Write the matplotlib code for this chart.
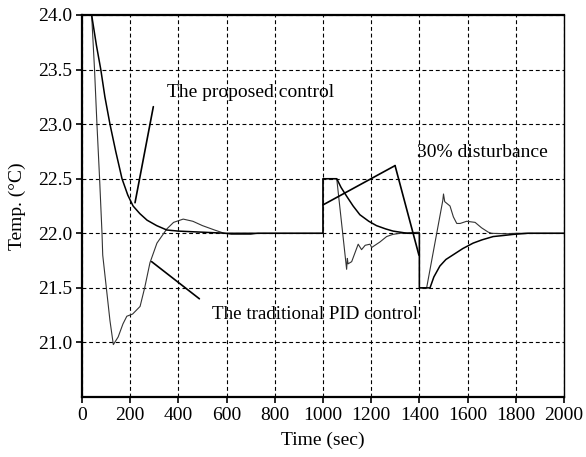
import matplotlib
matplotlib.use("Agg")
import matplotlib.pyplot as plt

# ---- data ----
t_proposed = [0, 40, 60, 78, 95, 116, 140, 166, 190, 212, 240, 270, 310, 352, 400, 500, 600,
              1000, 1000, 1057, 1075, 1098, 1125, 1153, 1190, 1222, 1260, 1291, 1350,
              1400, 1400, 1444, 1460, 1485, 1510, 1545, 1580, 1623, 1660, 1706, 1750, 1790, 1850, 2000]
T_proposed = [24.0, 24.0, 23.72, 23.5, 23.25, 23.0, 22.75, 22.5, 22.35, 22.25, 22.18, 22.12, 22.07, 22.03, 22.02, 22.01, 22.0,
              22.0, 22.5, 22.5, 22.42, 22.34, 22.25, 22.17, 22.11, 22.07, 22.04, 22.02, 22.0,
              22.0, 21.5, 21.5, 21.6, 21.70, 21.76, 21.81, 21.86, 21.91, 21.94, 21.97, 21.98, 21.99, 22.0, 22.0]

t_pid = [0, 40, 52, 62, 73, 83, 86, 100, 116, 130, 150, 170, 186, 210, 241, 260, 282, 311, 352, 380, 420,
         460, 500, 550, 590, 620, 660, 700, 730, 1000,
         1000, 1057, 1098, 1101, 1104, 1119, 1146, 1160, 1175, 1195, 1202, 1236, 1264, 1290, 1320, 1400,
         1400, 1430, 1497, 1500, 1505, 1527, 1541, 1555, 1569, 1596, 1631, 1658, 1686, 1700, 1760, 1800, 2000]
T_pid = [24.0, 24.0, 23.5, 23.0, 22.5, 22.0, 21.8, 21.52, 21.2, 20.98, 21.05, 21.17, 21.24, 21.26, 21.33, 21.5, 21.73, 21.91, 22.04, 22.10, 22.13,
         22.11, 22.07, 22.03, 22.0, 21.99, 21.99, 21.99, 22.0, 22.0,
         22.5, 22.5, 21.67, 21.77, 21.72, 21.74, 21.9, 21.85, 21.89, 21.9, 21.87, 21.92, 21.97, 21.99, 22.0, 22.01,
         21.5, 21.5, 22.30, 22.36, 22.29, 22.25, 22.15, 22.09, 22.09, 22.11, 22.10, 22.05, 22.01, 22.0, 21.995, 22.0, 22.0]

x_ticks = [0, 200, 400, 600, 800, 1000, 1200, 1400, 1600, 1800, 2000]
y_ticks = [21.0, 21.5, 22.0, 22.5, 23.0, 23.5, 24.0]
y_ticklabels = ["21.0", "21.5", "22.0", "22.5", "23.0", "23.5", "24.0"]

label_proposed = "The proposed control"
label_pid = "The traditional PID control"
label_dist = "30% disturbance"

# annotation leader lines (data coordinates)
lead_proposed = [(296, 23.16), (220, 22.28)]
lead_pid = [(289, 21.74), (487, 21.40)]
lead_dist_a = [(1299, 22.62), (1000, 22.26)]
lead_dist_b = [(1299, 22.62), (1398, 21.80)]

# ---- figure ----
plt.rcParams['font.family'] = ['Liberation Serif', 'DejaVu Serif']
FS = 14

fig = plt.figure(figsize=(5.86, 4.57), dpi=100)
ax = fig.add_axes([82/586, 1 - 397/457, (564-82)/586, (397-15)/457])

ax.plot(t_pid, T_pid, color='#333333', lw=0.8)
ax.plot(t_proposed, T_proposed, color='black', lw=1.1)

ax.set_xlim(0, 2000)
ax.set_ylim(20.5, 24.0)
ax.set_xticks(x_ticks)
ax.set_yticks(y_ticks)
ax.set_yticklabels(y_ticklabels)
ax.grid(True, color='black', linestyle=(0, (3.5, 2.5)), linewidth=0.8)
ax.tick_params(direction='out', length=4, width=1.2, colors='black', pad=3, labelsize=FS)

for side in ['left', 'bottom', 'top']:
    ax.spines[side].set_linewidth(1.6)
ax.spines['right'].set_linewidth(1.0)

ax.set_xlabel("Time (sec)", fontsize=FS, labelpad=6)
ax.set_ylabel("Temp. (°C)", fontsize=FS, labelpad=9)

for seg in (lead_proposed, lead_pid, lead_dist_a, lead_dist_b):
    ax.annotate('', xy=seg[1], xytext=seg[0],
                arrowprops=dict(arrowstyle='-', color='black', lw=1.2, shrinkA=0, shrinkB=0))

ax.text(353, 23.29, label_proposed, ha='left', va='center', fontsize=FS)
ax.text(538, 21.26, label_pid, ha='left', va='center', fontsize=13.7)
ax.text(1391, 22.74, label_dist, ha='left', va='center', fontsize=FS)

fig.savefig("out.png", dpi=100)
